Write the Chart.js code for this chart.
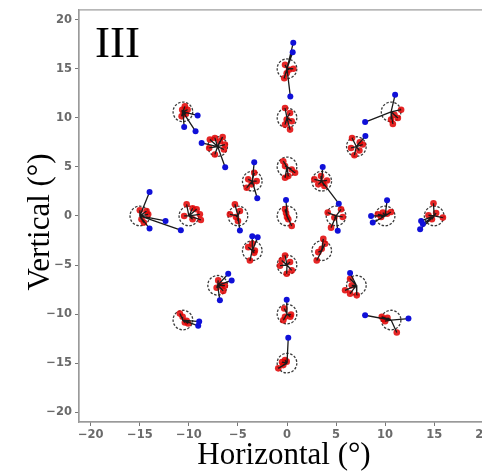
<!DOCTYPE html>
<html>
<head>
<meta charset="utf-8">
<script src="https://cdn.jsdelivr.net/npm/chart.js@4.4.1/dist/chart.umd.min.js"></script>
<style>
html,body{margin:0;padding:0;background:#fff;overflow:hidden;width:482px;height:475px;}
#wrap{position:absolute;left:0;top:0;width:500px;height:475px;}
</style>
</head>
<body>
<div id="wrap"><canvas id="c" width="500" height="475"></canvas></div>
<script>
// Target positions (degrees)
const targetX = [0, 5, 10, 15, -5, -10, -15, 0, 0, 0, 0, 0, 0,
  3.54, 7.07, 10.61, -3.54, -7.07, -10.61, -3.54, -7.07, -10.61, 3.54, 7.07, 10.61];
const targetY = [0, 0, 0, 0, 0, 0, 0, 5, 10, 15, -5, -10, -15,
  3.54, 7.07, 10.61, 3.54, 7.07, 10.61, -3.54, -7.07, -10.61, -3.54, -7.07, -10.61];

// Measured fixations (red), per target
const redPoints = [
  [[-0.2,0.68],[0.0,-0.1],[0.13,-0.34],[0.48,-1.02],[-0.1,0.3]],
  [[4.15,0.34],[4.49,-1.19],[5.51,0.68],[5.68,-0.1],[4.83,-0.17]],
  [[9.26,0.17],[9.77,0.34],[10.2,0.23],[9.59,-0.1],[10.6,0.4]],
  [[14.93,1.29],[15.89,-0.17],[14.42,0.07],[14.77,-0.34],[15.2,0.3]],
  [[-5.31,1.19],[-5.82,0.17],[-4.8,0.51],[-5.0,-0.51],[-5.2,-0.1]],
  [[-10.23,1.19],[-9.62,0.78],[-9.21,0.68],[-8.88,0.17],[-8.78,-0.41],[-9.62,-0.34],[-10.48,0]],
  [[-15.0,0.58],[-14.32,0.51],[-14.15,0.17],[-14.83,-0.34],[-14.59,-0.68]],
  [[-0.38,5.58],[-0.2,5.08],[0.48,4.74],[0.82,4.4],[0.13,4.06],[-0.2,3.89]],
  [[-0.2,11.0],[0.31,10.49],[-0.03,9.82],[0.48,9.65],[-0.2,9.31],[0.31,8.8]],
  [[-0.2,15.4],[0.64,15.0],[-0.03,14.55],[-0.28,14.04],[0.2,14.9]],
  [[-0.2,-4.03],[-0.54,-4.54],[0.31,-4.7],[0.48,-5.55],[-0.03,-5.89],[-0.71,-5.07]],
  [[-0.28,-9.44],[0.41,-10.05],[-0.2,-10.28],[-0.38,-10.63],[0.34,-10.28]],
  [[-0.2,-14.69],[-0.38,-15.2],[-0.89,-15.53],[-0.03,-14.85],[-0.5,-14.9]],
  [[2.79,3.73],[3.19,3.22],[3.64,3.38],[4.08,3.62],[3.81,3.05],[3.47,4.06]],
  [[6.63,7.95],[6.53,6.93],[6.87,6.19],[7.42,7.51],[7.72,7.28],[7.38,6.67]],
  [[11.63,10.83],[10.95,10.32],[10.61,9.82],[10.79,9.37],[11.3,9.98]],
  [[-3.95,3.73],[-3.34,4.4],[-3.09,3.55],[-4.11,2.87],[-3.6,3.22]],
  [[-7.86,7.79],[-7.35,7.95],[-6.56,8.05],[-6.33,7.28],[-6.43,6.77],[-7.35,6.26],[-7.93,6.93],[-6.84,7.61]],
  [[-10.41,11.17],[-10.13,10.83],[-10.68,10.83],[-10.54,10.49],[-10.74,10.15],[-10.31,10.39]],
  [[-3.95,-3.18],[-3.54,-2.84],[-3.27,-3.52],[-3.78,-4.54],[-3.34,-3.76]],
  [[-7.01,-6.57],[-6.5,-7.64],[-6.66,-7.08],[-7.17,-7.31],[-6.33,-7.11]],
  [[-10.92,-9.95],[-10.41,-10.86],[-10.07,-10.96],[-10.64,-10.28],[-10.23,-10.69]],
  [[3.7,-2.34],[3.88,-2.84],[3.19,-3.69],[3.03,-4.54],[3.54,-3.35]],
  [[6.43,-6.4],[6.6,-7.07],[5.92,-7.58],[6.43,-7.92],[7.11,-8.09]],
  [[9.66,-10.28],[10.0,-10.73],[11.19,-11.88],[10.24,-10.39],[9.85,-10.5]]
];

// Outlier fixations (blue), per target
const bluePoints = [
  [[-0.1,1.62]],
  [[5.17,-1.52]],
  [[8.57,0],[8.74,-0.68],[10.2,1.59]],
  [[13.67,-0.51],[13.57,-1.35],[13.85,-0.81]],
  [[-4.8,-1.49]],
  [],
  [[-14.01,2.44],[-12.38,-0.51],[-14.01,-1.29],[-10.82,-1.45]],
  [],
  [],
  [[0.64,17.66],[0.58,16.68],[0.34,12.18]],
  [],
  [[-0.03,-8.53]],
  [[0.13,-12.42]],
  [[3.64,5.0],[5.28,1.25]],
  [[7.99,8.15]],
  [[11.02,12.36],[7.96,9.57]],
  [[-3.34,5.48],[-3.03,1.8]],
  [[-8.7,7.44],[-6.3,4.97]],
  [[-9.11,10.25],[-10.48,9.07],[-9.32,8.63]],
  [[-3.54,-2.06],[-2.99,-2.16]],
  [[-5.99,-5.89],[-5.64,-6.57],[-6.84,-8.6]],
  [[-8.95,-10.76],[-9.05,-11.2]],
  [],
  [[6.43,-5.82]],
  [[7.96,-10.12],[12.38,-10.46]]
];

const tickValues = [-20, -15, -10, -5, 0, 5, 10, 15, 20];
const targetRadius = 1; // degrees
const panelLabel = 'III';
const xTitle = 'Horizontal (°)';
const yTitle = 'Vertical (°)';

// Build datasets from arrays
const targets = targetX.map((x, i) => ({x: x, y: targetY[i]}));
const redData = [];
const blueData = [];
const lineData = [];
redPoints.forEach((pts, i) => pts.forEach(p => {
  redData.push({x: p[0], y: p[1]});
  lineData.push({x: targetX[i], y: targetY[i]}, {x: p[0], y: p[1]}, {x: null, y: null});
}));
bluePoints.forEach((pts, i) => pts.forEach(p => {
  blueData.push({x: p[0], y: p[1]});
  lineData.push({x: targetX[i], y: targetY[i]}, {x: p[0], y: p[1]}, {x: null, y: null});
}));

const tickFont = {family: 'DejaVu Sans', size: 11.5, weight: 'bold'};
const tickColor = '#6a6a6a';

const decor = {
  id: 'decor',
  beforeDatasetDraw(chart, args) {
    if (chart.data.datasets[args.index].label === 'targets') {
      chart.ctx.save();
      chart.ctx.setLineDash([2.5, 1.6]);
    }
  },
  afterDatasetDraw(chart, args) {
    if (chart.data.datasets[args.index].label === 'targets') {
      chart.ctx.restore();
    }
  },
  afterDraw(chart) {
    const ctx = chart.ctx, a = chart.chartArea;
    ctx.save();
    ctx.strokeStyle = '#9a9a9a';
    ctx.lineWidth = 1.2;
    ctx.strokeRect(a.left, a.top, a.right - a.left, a.bottom - a.top);
    ctx.fillStyle = '#000';
    ctx.font = '45px "Liberation Serif"';
    ctx.textAlign = 'left';
    ctx.textBaseline = 'alphabetic';
    ctx.fillText(panelLabel, 95, 57);
    ctx.font = '31px "Liberation Serif"';
    ctx.textAlign = 'center';
    ctx.fillText(xTitle, 284, 464);
    ctx.translate(49, 222);
    ctx.rotate(-Math.PI / 2);
    ctx.fillText(yTitle, 0, 0);
    ctx.restore();
  }
};

function unitPx(ctx) {
  const s = ctx.chart.scales.x;
  return Math.abs(s.getPixelForValue(targetRadius) - s.getPixelForValue(0));
}

new Chart(document.getElementById('c'), {
  type: 'scatter',
  data: {
    datasets: [
      {label: 'blue', data: blueData, pointRadius: 3, pointBackgroundColor: '#1010d8', pointBorderWidth: 0, showLine: false},
      {label: 'lines', data: lineData, showLine: true, spanGaps: false, pointRadius: 0, borderColor: '#1a1a1a', borderWidth: 1.3, fill: false},
      {label: 'red', data: redData, pointRadius: 3.3, pointBackgroundColor: 'rgba(225,0,0,0.85)', pointBorderWidth: 0, showLine: false},
      {label: 'targets', data: targets, pointRadius: unitPx, pointBackgroundColor: 'rgba(0,0,0,0)', pointBorderColor: '#3a3a3a', pointBorderWidth: 1.3, showLine: false}
    ]
  },
  options: {
    responsive: false,
    animation: false,
    events: [],
    layout: {padding: {left: 0, top: 8, right: 5, bottom: 0}},
    plugins: {legend: {display: false}, tooltip: {enabled: false}},
    scales: {
      x: {
        type: 'linear', min: -21.2, max: 21.2,
        afterBuildTicks: s => { s.ticks = tickValues.map(v => ({value: v})); },
        afterFit: s => { s.height = 53; },
        ticks: {font: tickFont, color: tickColor, padding: 2, maxRotation: 0, callback: v => String(v).replace('-', '\u2212')},
        grid: {display: true, drawOnChartArea: false, drawTicks: true, tickLength: 4, color: '#777'},
        border: {display: true, color: '#9a9a9a', width: 1.2}
      },
      y: {
        type: 'linear', min: -21, max: 21,
        afterBuildTicks: s => { s.ticks = tickValues.map(v => ({value: v})); },
        afterFit: s => { s.width = 79; },
        ticks: {font: tickFont, color: tickColor, padding: 3, callback: v => String(v).replace('-', '\u2212')},
        grid: {display: true, drawOnChartArea: false, drawTicks: true, tickLength: 4, color: '#777'},
        border: {display: true, color: '#9a9a9a', width: 1.2}
      }
    }
  },
  plugins: [decor]
});
</script>
</body>
</html>
